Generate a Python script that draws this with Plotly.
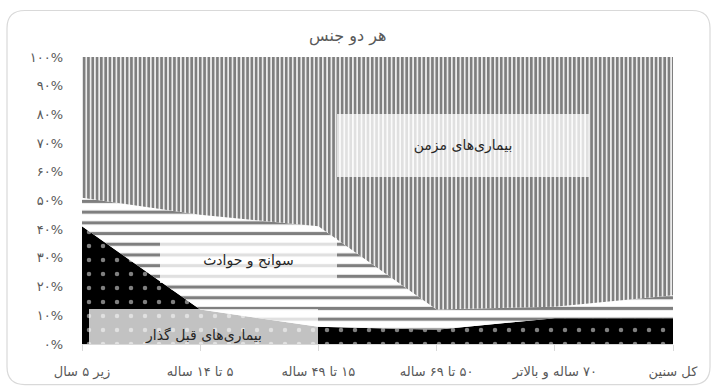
import plotly.graph_objects as go

# Age groups (x axis) and cause-of-death shares in percent, bottom to top of the stack
categories = ["زیر ۵ سال", "۵ تا ۱۴ ساله", "۱۵ تا ۴۹ ساله", "۵۰ تا ۶۹ ساله", "۷۰ ساله و بالاتر", "کل سنین"]
communicable = [41, 12, 6, 5, 9, 9]
accidents = [10, 33, 35, 7, 4, 8]
chronic = [49, 55, 59, 88, 87, 83]

series_names = ["بیماری‌های قبل گذار", "سوانح و حوادث", "بیماری‌های مزمن"]
title_text = "هر دو جنس"

y_ticks = [0, 10, 20, 30, 40, 50, 60, 70, 80, 90, 100]
y_tick_labels = ["۰%", "۱۰%", "۲۰%", "۳۰%", "۴۰%", "۵۰%", "۶۰%", "۷۰%", "۸۰%", "۹۰%", "۱۰۰%"]

W, H = 717, 392
ML, MR, MT, MB = 82, 44, 57, 45
PW, PH = W - ML - MR, H - MT - MB

FONT = "DejaVu Sans"
GRAY_TEXT = "#595959"


def rtl(s):
    # right-to-left embedding so Persian labels with numbers keep their order
    return "\u202b" + s + "\u202c"


xs = list(range(len(categories)))

fig = go.Figure()

patterns = [
    dict(shape=".", bgcolor="#000000", fgcolor="#ffffff", size=14, solidity=0.08),
    dict(shape="-", bgcolor="#ffffff", fgcolor="#000000", size=10.7, solidity=0.3),
    dict(shape="|", bgcolor="#ffffff", fgcolor="#000000", size=4.3, solidity=0.66),
]
for name, vals, pat in zip(series_names, [communicable, accidents, chronic], patterns):
    fig.add_trace(go.Scatter(
        x=xs, y=vals, name=name, mode="none", stackgroup="one",
        fillcolor=pat["bgcolor"], fillpattern=pat, hoverinfo="skip",
    ))


def px_to_paper(px, py):
    return (px - ML) / PW, (H - MB - py) / PH


def P(px, py):
    a, b = px_to_paper(px, py)
    return f"{a:.5f},{b:.5f}"


# rounded chart border
x0, y0, x1, y1, r = 7, 10, 710, 388, 18
path = (f"M{P(x0 + r, y0)} L{P(x1 - r, y0)} Q{P(x1, y0)} {P(x1, y0 + r)} "
        f"L{P(x1, y1 - r)} Q{P(x1, y1)} {P(x1 - r, y1)} L{P(x0 + r, y1)} "
        f"Q{P(x0, y1)} {P(x0, y1 - r)} L{P(x0, y0 + r)} Q{P(x0, y0)} {P(x0 + r, y0)} Z")
fig.add_shape(type="path", path=path, xref="paper", yref="paper",
              line=dict(color="#d9d9d9", width=1.2), layer="below")

# series labels on translucent boxes (pixel boxes: left, top, right, bottom)
label_boxes = [(89, 312, 318, 347), (160, 240, 337, 285), (337, 115, 589, 178)]
label_valign = ["bottom", "middle", "middle"]
for name, (bl, bt, br, bb), va in zip(series_names, label_boxes, label_valign):
    cx, cy = px_to_paper((bl + br) / 2, (bt + bb) / 2)
    fig.add_annotation(
        x=cx, y=cy, xref="paper", yref="paper", text=rtl(name), showarrow=False,
        width=br - bl, height=bb - bt, borderpad=0, borderwidth=0, valign=va,
        bgcolor="rgba(255,255,255,0.76)", xanchor="center", yanchor="middle",
        font=dict(family=FONT, size=14, color="#262626"),
    )

tx, ty = px_to_paper(347, 36)
fig.add_annotation(x=tx, y=ty, xref="paper", yref="paper", text=rtl(title_text),
                   showarrow=False, xanchor="center", yanchor="middle",
                   font=dict(family=FONT, size=16, color=GRAY_TEXT))

fig.update_layout(
    width=W, height=H, margin=dict(l=ML, r=MR, t=MT, b=MB),
    paper_bgcolor="white", plot_bgcolor="white", showlegend=False,
    font=dict(family=FONT, color=GRAY_TEXT),
)
fig.update_xaxes(
    range=[0, len(categories) - 1], tickvals=xs, ticktext=[rtl(c) for c in categories],
    showgrid=False, zeroline=False, showline=True, linecolor="#d9d9d9", linewidth=1,
    ticks="outside", ticklen=6, tickcolor="#d9d9d9", tickfont=dict(size=13, color=GRAY_TEXT),
    ticklabelstandoff=9,
)
fig.update_yaxes(
    range=[0, 100], tickvals=y_ticks, ticktext=y_tick_labels, showgrid=False, zeroline=False,
    showline=False, ticks="", tickfont=dict(size=13, color=GRAY_TEXT), ticklabelstandoff=18,
)

fig.write_html("out.html")
